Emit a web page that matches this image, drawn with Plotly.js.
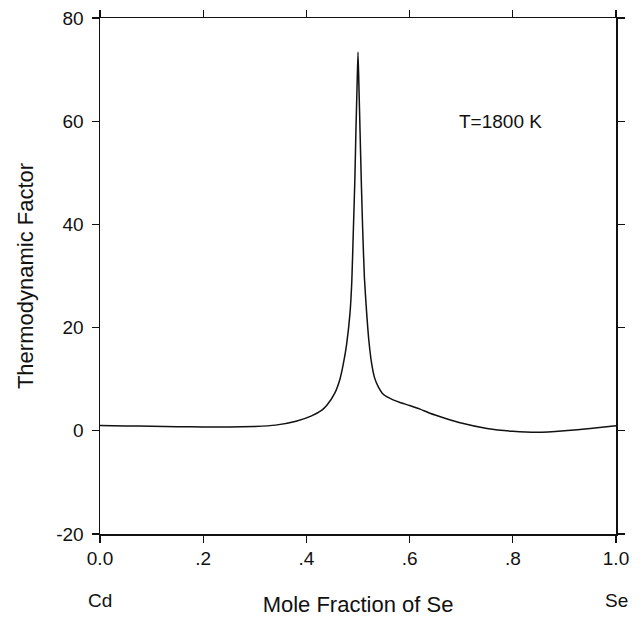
<!DOCTYPE html>
<html>
<head>
<meta charset="utf-8">
<script src="https://cdn.plot.ly/plotly-3.0.1.min.js"></script>
<style>html,body{margin:0;padding:0;background:#fff;}#chart{width:643px;height:617px;}</style>
</head>
<body>
<div id="chart"></div>
<script>
// Mole fraction of Se
const moleFraction = [0, 0.05, 0.1, 0.15, 0.2, 0.25, 0.3, 0.34, 0.38, 0.41, 0.43, 0.44, 0.455, 0.465, 0.4716, 0.478, 0.4845, 0.488, 0.491, 0.494, 0.496, 0.498, 0.5, 0.502, 0.504, 0.5065, 0.5091, 0.5125, 0.5168, 0.521, 0.5265, 0.532, 0.5394, 0.547, 0.5556, 0.568, 0.5814, 0.6, 0.6202, 0.6395, 0.67, 0.7, 0.75, 0.8, 0.85, 0.9, 0.95, 1.0];
// Thermodynamic factor at T = 1800 K
const thermoFactor = [1.05, 0.95, 0.88, 0.8, 0.75, 0.74, 0.85, 1.1, 1.85, 2.9, 4.0, 5.0, 7.3, 10.0, 13, 16.8, 22.8, 29, 38.9, 49, 58.3, 66, 73.4, 66, 58, 48, 38.9, 29.5, 22.8, 17.5, 13, 10.3, 8.5, 7.3, 6.6, 6.0, 5.5, 4.9, 4.2, 3.4, 2.4, 1.5, 0.45, -0.1, -0.3, 0.0, 0.45, 1.0];
const xTickVals = [0, 0.2, 0.4, 0.6, 0.8, 1.0];
const xTickText = ["0.0", ".2", ".4", ".6", ".8", "1.0"];
const yTickVals = [-20, 0, 20, 40, 60, 80];
const yTickText = ["-20", "0", "20", "40", "60", "80"];

const fontFam = "Liberation Sans, Arial, Helvetica, sans-serif";
const trace = {
  x: moleFraction, y: thermoFactor, mode: 'lines', type: 'scatter',
  line: {color: '#111', width: 1.5, shape: 'spline', smoothing: 0.5}, hoverinfo: 'skip'
};
const axisCommon = {
  showline: true, linecolor: '#111', linewidth: 1.5, mirror: 'allticks',
  ticks: 'outside', ticklen: 7, tickwidth: 1.3, tickcolor: '#111',
  showgrid: false, zeroline: false, tickfont: {family: fontFam, size: 19, color: '#111'}
};
const layout = {
  width: 643, height: 617,
  margin: {l: 100, r: 27, t: 18, b: 83},
  paper_bgcolor: '#fff', plot_bgcolor: '#fff',
  showlegend: false,
  xaxis: Object.assign({}, axisCommon, {
    range: [0, 1], tickvals: xTickVals, ticktext: xTickText,
    title: {text: 'Mole Fraction of Se', font: {family: fontFam, size: 22, color: '#111'}, standoff: 28}
  }),
  yaxis: Object.assign({}, axisCommon, {
    range: [-20, 80], tickvals: yTickVals, ticktext: yTickText, ticklabelstandoff: 4,
    title: {text: 'Thermodynamic Factor', font: {family: fontFam, size: 22, color: '#111'}, standoff: 16}
  }),
  annotations: [
    {text: 'T=1800 K', x: 0.777, y: 60, xref: 'x', yref: 'y', showarrow: false, font: {family: fontFam, size: 19, color: '#111'}},
    {text: 'Cd', x: 0, y: -0.128, xref: 'x', yref: 'paper', yanchor: 'middle', showarrow: false, font: {family: fontFam, size: 19, color: '#111'}},
    {text: 'Se', x: 1, y: -0.128, xref: 'x', yref: 'paper', yanchor: 'middle', showarrow: false, font: {family: fontFam, size: 19, color: '#111'}}
  ]
};
Plotly.newPlot('chart', [trace], layout, {displayModeBar: false, staticPlot: true});
</script>
</body>
</html>
